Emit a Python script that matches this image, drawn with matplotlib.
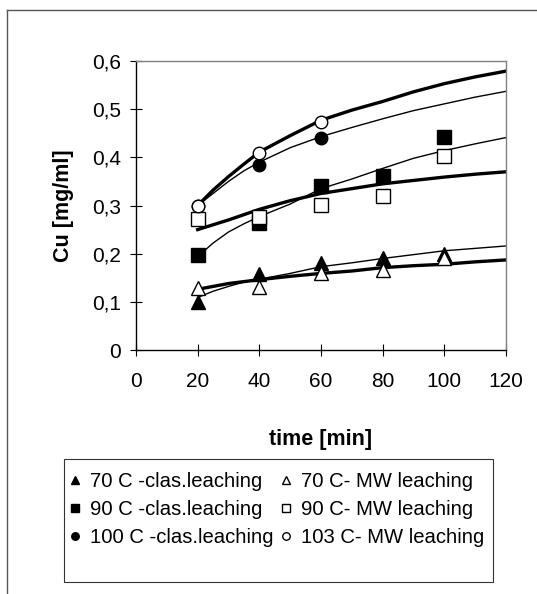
import numpy as np
import matplotlib
matplotlib.use("Agg")
import matplotlib.pyplot as plt
from matplotlib.lines import Line2D
from matplotlib.patches import Rectangle

plt.rcParams['font.family'] = ['Liberation Sans', 'DejaVu Sans']

# -----------------------------
# Measured points
# -----------------------------
t_pts = [20, 40, 60, 80, 100]
cu_70_clas = [0.100, 0.157, 0.180, 0.190, 0.200]
cu_70_mw = [0.128, 0.130, 0.160, 0.166, 0.190]
cu_90_clas = [0.198, 0.263, 0.340, 0.362, 0.442]
cu_90_mw = [0.273, 0.277, 0.302, 0.320, 0.403]
t_100 = [20, 40, 60]
cu_100_clas = [0.300, 0.385, 0.441]
cu_103_mw = [0.299, 0.409, 0.473]

# -----------------------------
# Fitted curves
# -----------------------------
t_fit = [20, 25, 30, 35, 40, 50, 60, 70, 80, 90, 100, 110, 120]
fit_top_thick = [0.300, 0.332, 0.360, 0.386, 0.411, 0.445, 0.477, 0.498, 0.516, 0.536, 0.553, 0.567, 0.579]
fit_top_thin = [0.300, 0.325, 0.350, 0.372, 0.390, 0.420, 0.443, 0.462, 0.480, 0.497, 0.511, 0.525, 0.537]
fit_mid_thin = [0.194, 0.222, 0.245, 0.262, 0.277, 0.303, 0.335, 0.355, 0.377, 0.398, 0.414, 0.428, 0.441]
fit_mid_thick = [0.250, 0.260, 0.270, 0.281, 0.292, 0.310, 0.325, 0.335, 0.345, 0.352, 0.359, 0.365, 0.370]
fit_low_thin = [0.109, 0.122, 0.132, 0.141, 0.147, 0.159, 0.173, 0.181, 0.190, 0.198, 0.206, 0.211, 0.216]
fit_low_thick = [0.126, 0.132, 0.138, 0.142, 0.146, 0.153, 0.159, 0.164, 0.171, 0.175, 0.178, 0.183, 0.187]

y_ticks = [0, 0.1, 0.2, 0.3, 0.4, 0.5, 0.6]
y_tick_labels = ['0', '0,1', '0,2', '0,3', '0,4', '0,5', '0,6']
x_ticks = [0, 20, 40, 60, 80, 100, 120]

# -----------------------------
# Plotting
# -----------------------------
W, H = 537, 594
fig = plt.figure(figsize=(W / 100, H / 100), dpi=100)
ax = fig.add_axes([136 / W, 1 - 350 / H, 370 / W, 289 / H])

# outer frame (left and top edges only visible)
fig.add_artist(Line2D([7 / W, 7 / W], [0.0, 1 - 10 / H], transform=fig.transFigure, color='#555555', lw=1.0))
fig.add_artist(Line2D([7 / W, 1.0], [1 - 10 / H, 1 - 10 / H], transform=fig.transFigure, color='#555555', lw=1.0))

ax.plot(t_fit, fit_top_thick, color='black', lw=2.4, zorder=2)
ax.plot(t_fit, fit_top_thin, color='black', lw=1.0, zorder=2)
ax.plot(t_fit, fit_mid_thin, color='black', lw=1.0, zorder=2)
ax.plot(t_fit, fit_mid_thick, color='black', lw=2.4, zorder=2)
ax.plot(t_fit, fit_low_thin, color='black', lw=1.0, zorder=2)
ax.plot(t_fit, fit_low_thick, color='black', lw=2.4, zorder=2)

h1, = ax.plot(t_pts, cu_70_clas, '^', color='black', ms=9.5, ls='none', label='70 C -clas.leaching', zorder=3)
h2, = ax.plot(t_pts, cu_90_clas, 's', color='black', ms=9.5, ls='none', label='90 C -clas.leaching', zorder=3)
h3, = ax.plot(t_100, cu_100_clas, 'o', color='black', ms=9, ls='none', label='100 C -clas.leaching', zorder=3)
h4, = ax.plot(t_pts, cu_70_mw, '^', mfc='white', mec='black', mew=1.0, ms=9.5, ls='none', label='70 C- MW leaching', zorder=4)
h5, = ax.plot(t_pts, cu_90_mw, 's', mfc='white', mec='black', mew=1.0, ms=9.5, ls='none', label='90 C- MW leaching', zorder=4)
h6, = ax.plot(t_100, cu_103_mw, 'o', mfc='white', mec='black', mew=1.0, ms=9, ls='none', label='103 C- MW leaching', zorder=4)

ax.set_xlim(0, 120)
ax.set_ylim(0, 0.6)
ax.set_xticks(x_ticks)
ax.set_yticks(y_ticks)
ax.set_yticklabels(y_tick_labels)
ax.tick_params(axis='y', direction='inout', length=8, labelsize=15, pad=7)
ax.tick_params(axis='x', direction='inout', length=8, labelsize=15, pad=12)

ax.spines['top'].set_color('#808080')
ax.spines['right'].set_color('#808080')
for s in ax.spines.values():
    s.set_linewidth(1.0)

ax.set_xlabel('time [min]', fontsize=15.5, fontweight='bold', labelpad=27)
ax.set_ylabel('Cu [mg/ml]', fontsize=15.5, fontweight='bold', labelpad=13)

# legend box drawn separately so its padding matches
fig.add_artist(Rectangle((64 / W, 1 - 582 / H), 429 / W, 123 / H, transform=fig.transFigure,
                         fill=False, edgecolor='#333333', lw=0.8))
fig.legend(handles=[h1, h2, h3, h4, h5, h6], ncol=2, loc='upper left',
           bbox_to_anchor=(71 / W, 1 - 472 / H), bbox_transform=fig.transFigure,
           fontsize=14.6, markerscale=0.6, handlelength=0.4, handletextpad=0.55,
           columnspacing=0.4, labelspacing=0.45, borderpad=0,
           frameon=False, borderaxespad=0)

fig.savefig('out.png', dpi=100)
